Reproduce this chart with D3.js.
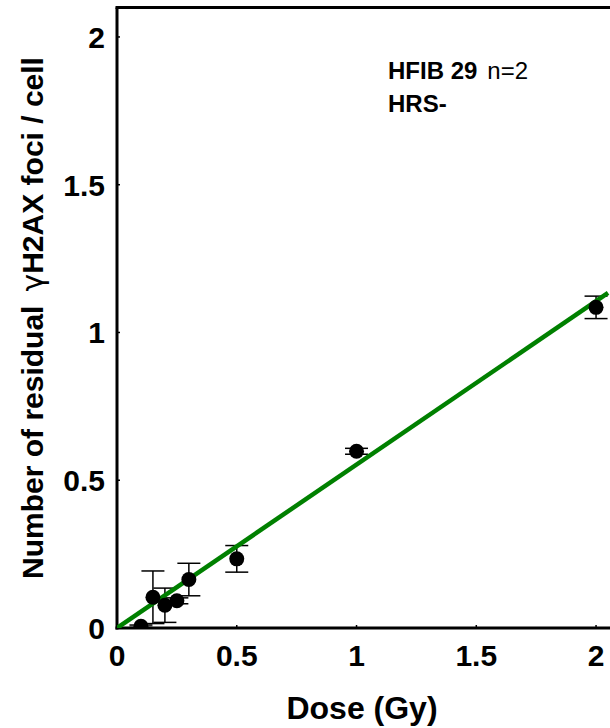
<!DOCTYPE html>
<html>
<head>
<meta charset="utf-8">
<script src="https://cdnjs.cloudflare.com/ajax/libs/d3/7.8.5/d3.min.js"></script>
<style>
  body { margin: 0; background: #fff; }
  svg { display: block; font-family: "Liberation Sans", Arial, sans-serif; }
</style>
</head>
<body>
<div id="chart"></div>
<script>
var doses = [0.1, 0.15, 0.2, 0.25, 0.3, 0.5, 1, 2];
var foci = [0.006, 0.104, 0.077, 0.092, 0.164, 0.234, 0.598, 1.085];
var errs = [0.004, 0.089, 0.058, 0.01, 0.055, 0.045, 0.01, 0.038];
var fitSlope = 0.553;
var fitRange = [0, 2.05];
var xTicks = [0, 0.5, 1, 1.5, 2];
var yTicks = [0, 0.5, 1, 1.5, 2];

var width = 610, height = 728;
var svg = d3.select('#chart').append('svg')
  .attr('width', width)
  .attr('height', height);

var x = d3.scaleLinear().domain([0, 2.1]).range([117, 620]);
var y = d3.scaleLinear().domain([0, 2.1]).range([628, 7.4]);

svg.append('clipPath').attr('id', 'plotclip')
  .append('rect').attr('x', 117).attr('y', 0).attr('width', width - 117).attr('height', 628);

// axes frame: left, bottom, top
svg.append('line')
  .attr('x1', x(0)).attr('x2', x(0))
  .attr('y1', y(2.1)).attr('y2', y(0) + 1.5)
  .attr('stroke', '#000').attr('stroke-width', 3);
svg.append('line')
  .attr('x1', x(0) - 1.5).attr('x2', width)
  .attr('y1', y(0)).attr('y2', y(0))
  .attr('stroke', '#000').attr('stroke-width', 3);
svg.append('line')
  .attr('x1', x(0) - 1.5).attr('x2', width)
  .attr('y1', y(2.1)).attr('y2', y(2.1))
  .attr('stroke', '#000').attr('stroke-width', 3);

// tiny inward ticks
svg.selectAll('line.xtick').data(xTicks).enter().append('line')
  .attr('class', 'xtick')
  .attr('x1', function(d){ return x(d) }).attr('x2', function(d){ return x(d) })
  .attr('y1', y(0)).attr('y2', y(0) - 3)
  .attr('stroke', '#000').attr('stroke-width', 1.5);
svg.selectAll('line.ytick').data(yTicks).enter().append('line')
  .attr('class', 'ytick')
  .attr('x1', x(0)).attr('x2', x(0) + 3)
  .attr('y1', function(d){ return y(d) }).attr('y2', function(d){ return y(d) })
  .attr('stroke', '#000').attr('stroke-width', 1.5);

svg.selectAll('text.xlab').data(xTicks).enter().append('text')
  .attr('class', 'xlab')
  .attr('x', function(d){ return x(d) })
  .attr('y', 666)
  .attr('text-anchor', 'middle')
  .style('font-size', '30px').style('font-weight', 'bold')
  .text(function(d){ return d });
svg.selectAll('text.ylab').data(yTicks).enter().append('text')
  .attr('class', 'ylab')
  .attr('x', 105)
  .attr('y', function(d){ return y(d) + 11 })
  .attr('text-anchor', 'end')
  .style('font-size', '30px').style('font-weight', 'bold')
  .text(function(d){ return d });

svg.append('text')
  .attr('x', 362).attr('y', 719)
  .attr('text-anchor', 'middle')
  .style('font-size', '32px').style('font-weight', 'bold')
  .text('Dose (Gy)');

var yt = svg.append('text')
  .attr('transform', 'translate(43,318) rotate(-90)')
  .attr('text-anchor', 'middle')
  .style('font-size', '30px').style('font-weight', 'bold');
yt.append('tspan').text('Number of residual');
yt.append('tspan').attr('dx', 14).style('font-family', '"DejaVu Sans"').style('font-weight', 'normal').text('\u03b3');
yt.append('tspan').text('H2AX foci / cell');

var plot = svg.append('g').attr('clip-path', 'url(#plotclip)');

// error bars
var eb = plot.selectAll('g.err').data(doses).enter().append('g').attr('class', 'err');
eb.append('line')
  .attr('x1', function(d){ return x(d) }).attr('x2', function(d){ return x(d) })
  .attr('y1', function(d, i){ return y(foci[i] + errs[i]) })
  .attr('y2', function(d, i){ return y(foci[i] - errs[i]) })
  .attr('stroke', '#000').attr('stroke-width', 1.5);
[1, -1].forEach(function(sgn){
  eb.append('line')
    .attr('x1', function(d){ return x(d) - 11.5 }).attr('x2', function(d){ return x(d) + 11.5 })
    .attr('y1', function(d, i){ return y(foci[i] + sgn * errs[i]) })
    .attr('y2', function(d, i){ return y(foci[i] + sgn * errs[i]) })
    .attr('stroke', '#000').attr('stroke-width', 1.5);
});

// fit line
plot.append('line')
  .attr('x1', x(fitRange[0])).attr('y1', y(fitSlope * fitRange[0]))
  .attr('x2', x(fitRange[1])).attr('y2', y(fitSlope * fitRange[1]))
  .attr('stroke', '#008000').attr('stroke-width', 4.5);

plot.selectAll('circle.pt').data(doses).enter().append('circle')
  .attr('class', 'pt')
  .attr('cx', function(d){ return x(d) })
  .attr('cy', function(d, i){ return y(foci[i]) })
  .attr('r', 7.5)
  .attr('fill', '#000');

var ann = svg.append('text').attr('x', 388).attr('y', 79)
  .style('font-size', '24px');
ann.append('tspan').style('font-weight', 'bold').text('HFIB 29');
ann.append('tspan').attr('dx', 10).text('n=2');
svg.append('text').attr('x', 388).attr('y', 112)
  .style('font-size', '24px').style('font-weight', 'bold')
  .text('HRS-');
</script>
</body>
</html>
